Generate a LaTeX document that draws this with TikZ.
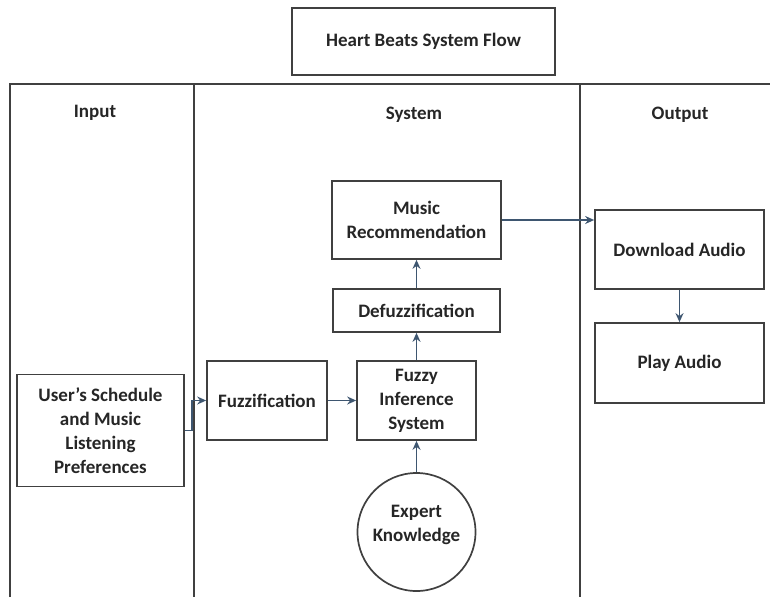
\documentclass[tikz,border=0pt]{standalone}
\usepackage{fontspec}
\setmainfont{Carlito}
\usetikzlibrary{arrows.meta}
\definecolor{linegray}{HTML}{404040}
\definecolor{arrowblue}{HTML}{3E5670}
\begin{document}
\begin{tikzpicture}[x=1pt,y=-1pt,
  every node/.style={font=\fontsize{19}{24}\selectfont\bfseries, text=black!85, align=center, inner sep=0pt},
  boxnode/.style={draw=linegray, line width=1.7pt, fill=white, rectangle},
  tline/.style={draw=linegray, line width=1.7pt},
  flow/.style={draw=arrowblue, line width=1.7pt, -{Stealth[length=9pt,width=8pt]}}]
\useasboundingbox (0,0) rectangle (770,597);
% table
\draw[tline] (10,597) -- (10,84) -- (770,84);
\draw[tline] (194,84) -- (194,597);
\draw[tline] (580,84) -- (580,597);
\node (hin) at (95,113) {Input};
\node (hsys) at (414,115) {System};
\node (hout) at (680,115) {Output};
% title
\node[boxnode, minimum width=263pt, minimum height=67pt] (title) at (423.5,41.5) {Heart Beats System Flow};
% boxes
\node[boxnode, minimum width=167pt, minimum height=112pt] (user) at (100.5,430.5) {User’s Schedule\\and Music\\Listening\\Preferences};
\node[boxnode, minimum width=120pt, minimum height=79pt] (fuzz) at (267,400.5) {Fuzzification};
\node[boxnode, minimum width=119pt, minimum height=79pt] (fis) at (416.5,400.5) {Fuzzy\\Inference\\System};
\node[boxnode, minimum width=167pt, minimum height=43pt] (defuzz) at (416.5,310.5) {Defuzzification};
\node[boxnode, minimum width=169pt, minimum height=78pt] (music) at (416.5,220) {Music\\Recommendation};
\node[boxnode, minimum width=169pt, minimum height=79pt] (download) at (679.5,249.5) {Download Audio};
\node[boxnode, minimum width=169pt, minimum height=80pt] (play) at (679.5,363) {Play Audio};
\node[draw=linegray, line width=1.7pt, circle, minimum size=118pt] (expert) at (416.5,532) {};
\node (expertlabel) at (416.5,525) {Expert\\Knowledge};
% connectors
\draw[flow] (user.east) -- ++(7,0) |- (fuzz.west);
\draw[flow] (fuzz.east) -- (fis.west);
\draw[flow] (fis.north) -- (defuzz.south);
\draw[flow] (defuzz.north) -- (music.south);
\draw[flow] (expert.north) -- (fis.south);
\draw[flow] (music.east) -- (music.east -| download.west);
\draw[flow] (download.south) -- (play.north);
\end{tikzpicture}
\end{document}
